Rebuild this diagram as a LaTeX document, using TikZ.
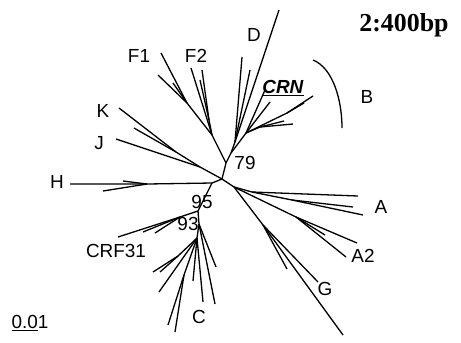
\documentclass[tikz,border=0pt]{standalone}
\usepackage{fontspec}
\setmainfont{Liberation Sans}
\newfontfamily\timesf{Liberation Serif}
\begin{document}
\begin{tikzpicture}[x=1bp,y=-1bp,line width=1.3bp,
  lbl/.style={font=\fontsize{19}{19}\selectfont,inner sep=0pt},
  title/.style={font=\timesf\bfseries\fontsize{26}{26}\selectfont,inner sep=0pt,anchor=base}]
\useasboundingbox (0,0) rectangle (461,342);
% internal nodes
\coordinate (O) at (222,179);
\coordinate (n79) at (226,163);
\coordinate (nDB) at (231,153);
\coordinate (nD) at (235,142);
\coordinate (nB) at (246,133);
\coordinate (nB2) at (287,113);
\coordinate (nB3) at (260,127);
\coordinate (nF) at (212,135);
\coordinate (nF1) at (187,103);
\coordinate (nF2) at (209,120);
\coordinate (nKJ) at (200,167);
\coordinate (nK) at (176,152);
\coordinate (nH) at (212,183);
\coordinate (nH2) at (147,184);
\coordinate (n95) at (198,211);
\coordinate (nCRF) at (180,217);
\coordinate (n93) at (199,224);
\coordinate (nC) at (197,238);
\coordinate (nC1) at (178,256);
\coordinate (nC2) at (184,275);
\coordinate (nAG) at (234,187);
\coordinate (nG) at (263,225);
\coordinate (nA1) at (252,192);
\coordinate (nA2) at (292,200);
\coordinate (nA3) at (296,217);
% tips
\coordinate (d1) at (279,10);
\coordinate (d2) at (242,57);
\coordinate (d3) at (250,70);
\coordinate (crn) at (265,90);
\coordinate (b0) at (270,102);
\coordinate (b1) at (313,96);
\coordinate (b2) at (304,103);
\coordinate (b3) at (293,124);
\coordinate (b4) at (284,121);
\coordinate (f1a) at (161,53);
\coordinate (f1b) at (158,75);
\coordinate (f1c) at (173,83);
\coordinate (f2a) at (191,68);
\coordinate (f2b) at (202,70);
\coordinate (f2c) at (200,80);
\coordinate (k1) at (119,108);
\coordinate (k2) at (134,128);
\coordinate (j1) at (116,139);
\coordinate (h1) at (70,184);
\coordinate (h2) at (123,181);
\coordinate (h3) at (103,191);
\coordinate (crf1) at (118,237);
\coordinate (crf2) at (143,232);
\coordinate (crf3) at (155,233);
\coordinate (c1) at (153,272);
\coordinate (c2) at (160,272);
\coordinate (c3) at (159,292);
\coordinate (c4) at (168,325);
\coordinate (c5) at (175,332);
\coordinate (c6) at (193,281);
\coordinate (c7) at (203,302);
\coordinate (c8) at (215,304);
\coordinate (c9) at (216,267);
\coordinate (g1) at (343,335);
\coordinate (g2) at (318,282);
\coordinate (g3) at (287,269);
\coordinate (a1) at (358,196);
\coordinate (a2) at (353,207);
\coordinate (a3) at (363,215);
\coordinate (a4) at (357,243);
\coordinate (a5) at (346,257);
\coordinate (a6) at (325,235);
% branches
\draw (O) -- (n79) -- (nDB) -- (nD) -- (d1);
\draw (nD) -- (d2);
\draw (nD) -- (d3);
\draw (nDB) -- (nB) -- (crn);
\draw (nB) -- (b0);
\draw (nB) -- (nB2) -- (b1);
\draw (nB2) -- (b2);
\draw (nB) -- (nB3) -- (b3);
\draw (nB3) -- (b4);
\draw (n79) -- (nF) -- (nF1) -- (f1a);
\draw (nF1) -- (f1b);
\draw (nF1) -- (f1c);
\draw (nF) -- (f2a);
\draw (nF) -- (nF2) -- (f2b);
\draw (nF2) -- (f2c);
\draw (O) -- (nKJ) -- (j1);
\draw (nKJ) -- (nK) -- (k1);
\draw (nK) -- (k2);
\draw (O) -- (nH) -- (nH2) -- (h1);
\draw (nH2) -- (h2);
\draw (nH2) -- (h3);
\draw (nH) -- (n95) -- (nCRF) -- (crf1);
\draw (nCRF) -- (crf2);
\draw (nCRF) -- (crf3);
\draw (n95) -- (n93) -- (nC);
\draw (n93) -- (c8);
\draw (n93) -- (c9);
\draw (nC) -- (nC1) -- (c1);
\draw (nC1) -- (c2);
\draw (nC) -- (c3);
\draw (nC) -- (nC2) -- (c4);
\draw (nC2) -- (c5);
\draw (nC) -- (c6);
\draw (nC) -- (c7);
\draw (O) -- (nAG) -- (nG) -- (g1);
\draw (nG) -- (g2);
\draw (nG) -- (g3);
\draw (nAG) -- (nA1) -- (a1);
\draw (nA1) -- (nA2) -- (a2);
\draw (nA2) -- (a3);
\draw (nAG) -- (nA3) -- (a4);
\draw (nA3) -- (a5);
\draw (nA3) -- (a6);
% B arc
\draw (313,60) .. controls (333,68) and (342,100) .. (342,128);
% labels
\node[title] (ttl) at (404,31) {2:400bp};
\node[lbl] (lD) at (254,35) {D};
\node[lbl] (lF1) at (139,56) {F1};
\node[lbl] (lF2) at (196,56) {F2};
\node[lbl] (lCRN) at (283,88) {\underline{\textit{\textbf{CRN}}}};
\node[lbl] (lB) at (367,97) {B};
\node[lbl] (lK) at (103,111) {K};
\node[lbl] (lJ) at (99,143) {J};
\node[lbl] (l79) at (245,163) {79};
\node[lbl] (lH) at (57,182) {H};
\node[lbl] (l95) at (202,202) {95};
\node[lbl] (l93) at (188,224) {93};
\node[lbl] (lCRF) at (116,251) {CRF31};
\node[lbl] (lC) at (199,317) {C};
\node[lbl] (lA) at (381,207) {A};
\node[lbl] (lA2) at (363,256) {A2};
\node[lbl] (lG) at (325,289) {G};
\node[lbl] (lS) at (30,323) {\underline{0.0}1};
\end{tikzpicture}
\end{document}
